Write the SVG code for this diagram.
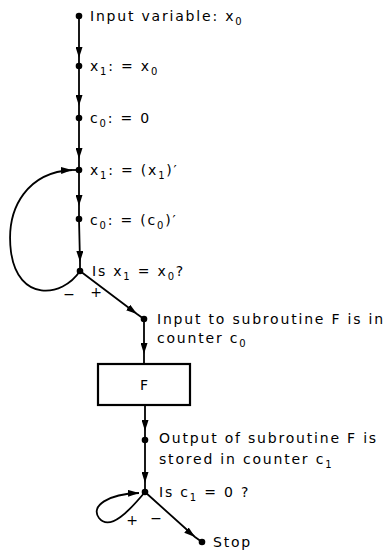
<svg xmlns="http://www.w3.org/2000/svg" width="389" height="553" viewBox="0 0 389 553">
<style>
text{font-family:"DejaVu Sans","Liberation Sans",sans-serif;font-size:14px;fill:#000;letter-spacing:1.8px}
.sub{font-size:10px}
.ln{fill:none;stroke:#000;stroke-width:1.8}
.dot{fill:#000}
</style>
<defs>
<marker id="ar" viewBox="0 0 11 7" refX="11" refY="3.5" markerWidth="11" markerHeight="7" markerUnits="userSpaceOnUse" orient="auto">
<path d="M0 0 L11 3.5 L0 7 Z" fill="#000"/>
</marker>
</defs>
<rect width="389" height="553" fill="#fff"/>
<g id="connectors">
<path class="ln" d="M79 16 L79 58 L79 66" marker-mid="url(#ar)"/>
<path class="ln" d="M79 66 L79 106 L79 118" marker-mid="url(#ar)"/>
<path class="ln" d="M79 118 L79 159 L79 170" marker-mid="url(#ar)"/>
<path class="ln" d="M79 170 L79 206 L79 219" marker-mid="url(#ar)"/>
<path class="ln" d="M79 219 L80 262 L80 271" marker-mid="url(#ar)"/>
<path class="ln" d="M80 271 C 62 298 18 302 11 252 C 5 205 30 172 72 170"  marker-end="url(#ar)"/>
<path class="ln" d="M72 170 L79 170"/>
<path class="ln" d="M80 271 L137 314 L144 319" marker-mid="url(#ar)"/>
<path class="ln" d="M144 319 L144 354 L144 364" marker-mid="url(#ar)"/>
<path class="ln" d="M145 405 L145 431 L145 440" marker-mid="url(#ar)"/>
<path class="ln" d="M145 440 L145 483 L145 492" marker-mid="url(#ar)"/>
<path class="ln" d="M145 492 C 130 510 110 532 99 518 C 90 506 108 494 139 493" marker-end="url(#ar)"/>
<path class="ln" d="M145 492 L195 537 L202 542" marker-mid="url(#ar)"/>
</g>
<g id="n-input"><circle class="dot" cx="79" cy="16" r="3.3"/><text x="90" y="21">Input variable: x<tspan class="sub" dy="4">0</tspan></text></g>
<g id="n-x1"><circle class="dot" cx="79" cy="66" r="3.3"/><text x="90" y="71">x<tspan class="sub" dy="4">1</tspan><tspan dy="-4">: = x</tspan><tspan class="sub" dy="4">0</tspan></text></g>
<g id="n-c0"><circle class="dot" cx="79" cy="118" r="3.3"/><text x="90" y="123">c<tspan class="sub" dy="4">0</tspan><tspan dy="-4">: = 0</tspan></text></g>
<g id="n-x1p"><circle class="dot" cx="79" cy="170" r="3.3"/><text x="90" y="175">x<tspan class="sub" dy="4">1</tspan><tspan dy="-4">: = (x</tspan><tspan class="sub" dy="4">1</tspan><tspan dy="-4">)′</tspan></text></g>
<g id="n-c0p"><circle class="dot" cx="79" cy="219" r="3.3"/><text x="90" y="225">c<tspan class="sub" dy="4">0</tspan><tspan dy="-4">: = (c</tspan><tspan class="sub" dy="4">0</tspan><tspan dy="-4">)′</tspan></text></g>
<g id="n-is1"><circle class="dot" cx="80" cy="271" r="3.3"/><text x="92" y="276">Is x<tspan class="sub" dy="4">1</tspan><tspan dy="-4"> = x</tspan><tspan class="sub" dy="4">0</tspan><tspan dy="-4">?</tspan></text>
<text x="70" y="299" text-anchor="middle">−</text><text x="97" y="297" text-anchor="middle">+</text></g>
<g id="n-inF"><circle class="dot" cx="144" cy="319" r="3.3"/><text x="157" y="324">Input to subroutine F is in</text><text x="157" y="343">counter c<tspan class="sub" dy="4">0</tspan></text></g>
<g id="n-F"><rect x="98" y="364" width="92" height="41" fill="none" stroke="#000" stroke-width="2.2"/><text x="145" y="390" text-anchor="middle">F</text></g>
<g id="n-out"><circle class="dot" cx="145" cy="440" r="3.3"/><text x="159" y="443">Output of subroutine F is</text><text x="159" y="464">stored in counter c<tspan class="sub" dy="4">1</tspan></text></g>
<g id="n-is2"><circle class="dot" cx="145" cy="492" r="3.3"/><text x="159" y="497">Is c<tspan class="sub" dy="4">1</tspan><tspan dy="-4"> = 0 ?</tspan></text>
<text x="133" y="525" text-anchor="middle">+</text><text x="157" y="523" text-anchor="middle">−</text></g>
<g id="n-stop"><circle class="dot" cx="202" cy="542" r="3.3"/><text x="213" y="547">Stop</text></g>
</svg>
